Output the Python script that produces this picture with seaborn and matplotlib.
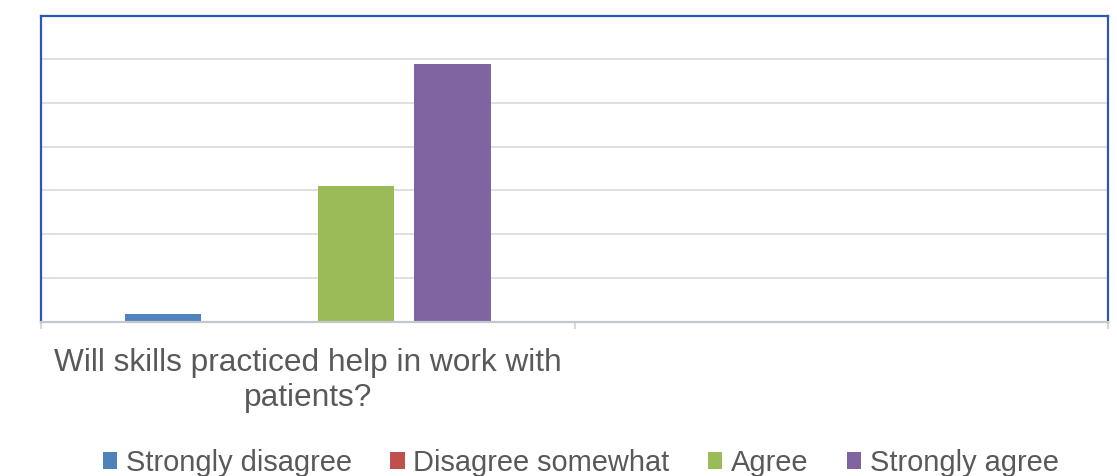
import matplotlib
matplotlib.use("Agg")
import matplotlib.pyplot as plt
import seaborn as sns
import pandas as pd

# ---- data ----
categories = ["Will skills practiced help in work with\npatients?", ""]
responses = ["Strongly disagree", "Disagree somewhat", "Agree", "Strongly agree"]
values = [0.18, 0.0, 3.1, 5.9]
colors = ["#4F81BD", "#C0504D", "#9BBB59", "#8064A2"]

df = pd.DataFrame({
    "question": [categories[0]] * len(responses),
    "response": responses,
    "value": values,
})

sns.set_theme(style="white")
plt.rcParams["font.family"] = ["Liberation Sans", "DejaVu Sans"]

fig = plt.figure(figsize=(11.17, 4.76), dpi=100)
ax = fig.add_axes([41 / 1117, 1 - 321.7 / 476, (1108 - 41) / 1117, (321.7 - 15.5) / 476])

sns.barplot(data=df, x="question", y="value", hue="response", order=categories,
            hue_order=responses, palette=colors, saturation=1, width=0.724, gap=0.207,
            linewidth=0, ax=ax, legend=True)

ax.set_ylim(0, 7)
ax.set_xlim(-0.5, 1.5)
ax.set_yticks(range(0, 8))
ax.set_yticklabels([])
ax.tick_params(axis="y", length=0)
ax.yaxis.grid(True, color="#D9D9D9", linewidth=1.2)
ax.set_axisbelow(True)

ax.set_xticks([0, 1])
ax.set_xticklabels(categories, fontsize=22.8, color="#595959", linespacing=1.22)
ax.tick_params(axis="x", which="major", length=0, pad=19)
ax.set_xticks([-0.5, 0.5, 1.5], minor=True)
ax.tick_params(axis="x", which="minor", bottom=True, length=5, width=1.5, color="#D9D9D9")
ax.set_xlabel("")
ax.set_ylabel("")

for side in ["left", "top", "right"]:
    ax.spines[side].set_visible(True)
    ax.spines[side].set_color("#2E55B8")
    ax.spines[side].set_linewidth(1.6)
ax.spines["bottom"].set_color("#C3C7CE")
ax.spines["bottom"].set_linewidth(1.6)

handles, labels = ax.get_legend_handles_labels()
ax.get_legend().remove()
fig.legend(handles, labels, loc="center", bbox_to_anchor=(0.520, 1 - 463 / 476), ncol=4,
           frameon=False, fontsize=20.9, labelcolor="#595959", handlelength=0.5,
           handleheight=0.5, handletextpad=0.3, columnspacing=1.32)

fig.savefig("out.png", dpi=100)
